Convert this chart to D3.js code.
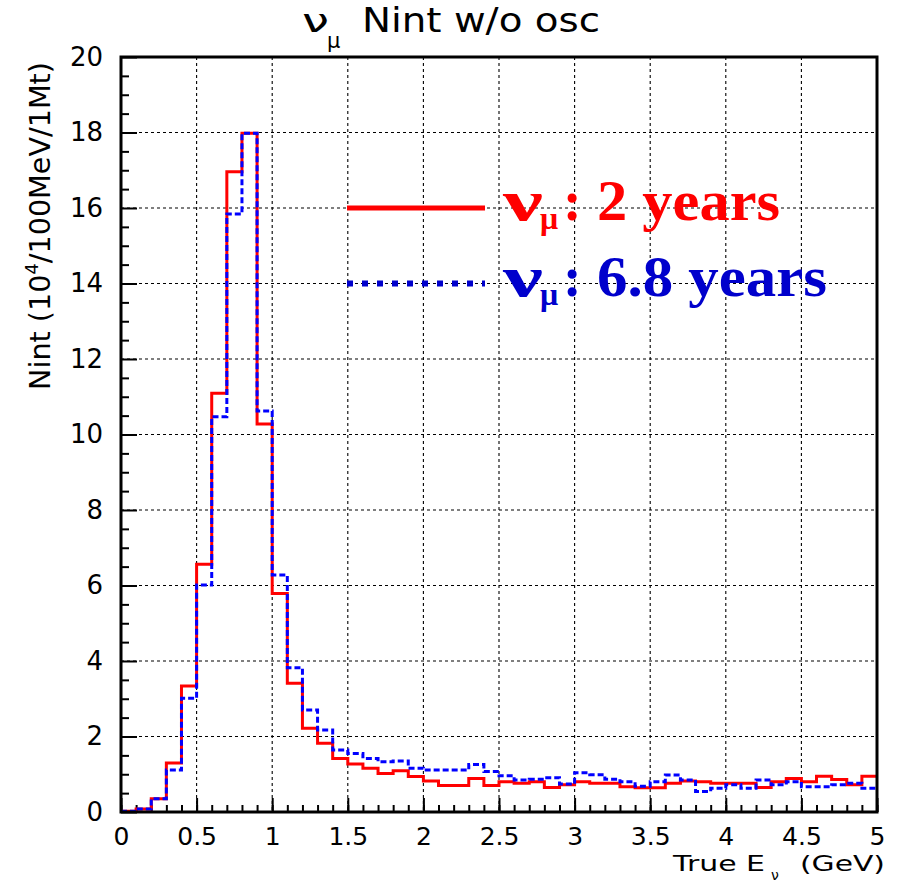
<!DOCTYPE html>
<html><head><meta charset="utf-8">
<script src="https://cdn.jsdelivr.net/npm/d3@7"></script>
<style>body{margin:0;background:#fff}svg{display:block}</style>
</head><body><svg id="c" width="902" height="885"></svg>
<script>
// ---- data ----
const binLow = [0.0,0.1,0.2,0.3,0.4,0.5,0.6,0.7,0.8,0.9,
                1.0,1.1,1.2,1.3,1.4,1.5,1.6,1.7,1.8,1.9,
                2.0,2.1,2.2,2.3,2.4,2.5,2.6,2.7,2.8,2.9,
                3.0,3.1,3.2,3.3,3.4,3.5,3.6,3.7,3.8,3.9,
                4.0,4.1,4.2,4.3,4.4,4.5,4.6,4.7,4.8,4.9];
const binWidth = 0.1;
const nu2years = [0.02,0.08,0.35,1.30,3.34,6.56,11.09,16.96,17.98,10.28,
                  5.79,3.41,2.22,1.82,1.42,1.27,1.16,1.02,1.09,0.94,
                  0.82,0.70,0.70,0.89,0.70,0.80,0.76,0.80,0.65,0.72,
                  0.80,0.76,0.76,0.67,0.64,0.64,0.76,0.82,0.80,0.76,
                  0.76,0.76,0.65,0.80,0.89,0.80,0.95,0.86,0.72,0.95];
const nu68years = [0.02,0.08,0.35,1.11,3.01,6.01,10.47,15.84,17.98,10.62,
                   6.28,3.82,2.70,2.17,1.64,1.55,1.42,1.33,1.35,1.16,
                   1.11,1.11,1.11,1.26,1.07,0.96,0.85,0.87,0.91,0.74,
                   1.04,0.99,0.87,0.80,0.68,0.80,0.98,0.85,0.54,0.63,
                   0.72,0.63,0.85,0.72,0.80,0.67,0.67,0.72,0.76,0.63];
const xMajor = [0,0.5,1,1.5,2,2.5,3,3.5,4,4.5,5];
const xMajorLabels = ["0","0.5","1","1.5","2","2.5","3","3.5","4","4.5","5"];
const yMajor = [0,2,4,6,8,10,12,14,16,18,20];
const yMajorLabels = ["0","2","4","6","8","10","12","14","16","18","20"];
const xMinor = binLow.concat([5.0]);
const yMinor = [0.5,1,1.5,2.5,3,3.5,4.5,5,5.5,6.5,7,7.5,8.5,9,9.5,10.5,11,11.5,12.5,13,13.5,14.5,15,15.5,16.5,17,17.5,18.5,19,19.5];
const legendLabels = ["2 years","6.8 years"];

// ---- layout ----
const L = 121, R = 877, T = 57, B = 812;
const svg = d3.select("#c");
const x = d3.scaleLinear().domain([0,5]).range([L,R]);
const y = d3.scaleLinear().domain([0,20]).range([B,T]);
const FONT = "'DejaVu Sans', sans-serif";

// grid
const grid = svg.append("g").attr("stroke","#000").attr("stroke-width",1.1).attr("stroke-dasharray","3,3");
grid.selectAll("line.gx").data(xMajor.filter(v=>v>0&&v<5)).join("line")
  .attr("x1",d=>x(d)).attr("x2",d=>x(d)).attr("y1",T).attr("y2",B);
grid.selectAll("line.gy").data(yMajor.filter(v=>v>0&&v<20)).join("line")
  .attr("y1",d=>y(d)).attr("y2",d=>y(d)).attr("x1",L).attr("x2",R);

// axes
function styleAxis(size){
  return g=>{
    g.select(".domain").remove();
    g.selectAll(".tick line").attr("stroke","#000").attr("stroke-width",2);
    g.selectAll("text").attr("font-family",FONT).attr("font-size",size).attr("fill","#000");
  };
}
svg.append("g").attr("transform",`translate(${L},0)`)
  .call(d3.axisLeft(y).tickValues(yMajor).tickSize(-16).tickPadding(18).tickFormat((d,i)=>yMajorLabels[i]))
  .call(styleAxis(26));
svg.append("g").attr("transform",`translate(${L},0)`)
  .call(d3.axisLeft(y).tickValues(yMinor).tickSize(-8).tickFormat(""))
  .call(styleAxis(26));
svg.append("g").attr("transform",`translate(0,${B})`)
  .call(d3.axisBottom(x).tickValues(xMajor).tickSize(-14).tickPadding(15).tickFormat((d,i)=>xMajorLabels[i]))
  .call(styleAxis(25));
svg.append("g").attr("transform",`translate(0,${B})`)
  .call(d3.axisBottom(x).tickValues(xMinor).tickSize(-7).tickFormat(""))
  .call(styleAxis(25));

// histograms
svg.append("clipPath").attr("id","clip").append("rect")
  .attr("x",L).attr("y",T).attr("width",R-L).attr("height",B-T);
const line = d3.line().x(d=>x(d[0])).y(d=>y(d[1])).curve(d3.curveStepAfter);
function pts(vals){
  const p = binLow.map((b,i)=>[b,vals[i]]);
  p.push([binLow[binLow.length-1]+binWidth, vals[vals.length-1]]);
  return p;
}
const hg = svg.append("g").attr("clip-path","url(#clip)");
hg.append("path").attr("d",line(pts(nu2years))).attr("fill","none")
  .attr("stroke","#ff0000").attr("stroke-width",3);
hg.append("path").attr("d",line(pts(nu68years))).attr("fill","none")
  .attr("stroke","#0000ff").attr("stroke-width",3).attr("stroke-dasharray","6,3");

// frame
svg.append("rect").attr("x",L).attr("y",T).attr("width",R-L).attr("height",B-T)
  .attr("fill","none").attr("stroke","#000").attr("stroke-width",3);

// title
const tg = svg.append("g").attr("font-family",FONT).attr("fill","#000");
tg.append("text").attr("x",302).attr("y",32).attr("font-size",32)
  .attr("textLength",27).attr("lengthAdjust","spacingAndGlyphs").text("ν");
tg.append("text").attr("x",327).attr("y",48).attr("font-size",21).text("μ");
tg.append("text").attr("x",362).attr("y",32).attr("font-size",34)
  .attr("textLength",238).attr("lengthAdjust","spacingAndGlyphs").text("Nint w/o osc");

// y title
const yt = svg.append("text").attr("font-family",FONT).attr("font-size",29).attr("fill","#000")
  .attr("text-anchor","end").attr("transform","translate(50,62) rotate(-90)")
  .attr("textLength",328).attr("lengthAdjust","spacingAndGlyphs");
yt.append("tspan").text("Nint (10");
yt.append("tspan").attr("font-size",18).attr("dy",-12).text("4");
yt.append("tspan").attr("dy",12).text("/100MeV/1Mt)");

// x title
const xg = svg.append("g").attr("font-family",FONT).attr("fill","#000");
xg.append("text").attr("x",673).attr("y",871).attr("font-size",22)
  .attr("textLength",92).attr("lengthAdjust","spacingAndGlyphs").text("True E");
xg.append("text").attr("x",771).attr("y",880).attr("font-size",14).text("ν");
xg.append("text").attr("x",800).attr("y",871).attr("font-size",22)
  .attr("textLength",85).attr("lengthAdjust","spacingAndGlyphs").text("(GeV)");

// legend
const lg = svg.append("g");
const legY = [y(16), y(14)];
const legColors = ["#ff0000","#0000cc"];
lg.append("line").attr("x1",347).attr("x2",485).attr("y1",legY[0]).attr("y2",legY[0])
  .attr("stroke","#ff0000").attr("stroke-width",5);
lg.append("line").attr("x1",347).attr("x2",485).attr("y1",legY[1]).attr("y2",legY[1])
  .attr("stroke","#0000cc").attr("stroke-width",6).attr("stroke-dasharray","6,9");
const SERIF = "'Liberation Serif', 'Times New Roman', serif";
const legWidths = [183,230];
legendLabels.forEach((lab,i)=>{
  const base = legY[i] + 12;
  const g = lg.append("g").attr("font-family",SERIF).attr("font-weight","bold").attr("fill",legColors[i]);
  g.append("text").attr("x",503).attr("y",base).attr("font-size",58)
    .attr("textLength",40).attr("lengthAdjust","spacingAndGlyphs").text("ν");
  g.append("text").attr("x",540).attr("y",base+9).attr("font-size",32).text("μ");
  g.append("text").attr("x",563).attr("y",base).attr("font-size",56).text(":");
  g.append("text").attr("x",597).attr("y",base).attr("font-size",56)
    .attr("textLength",legWidths[i]).attr("lengthAdjust","spacingAndGlyphs").text(lab);
});
</script></body></html>
